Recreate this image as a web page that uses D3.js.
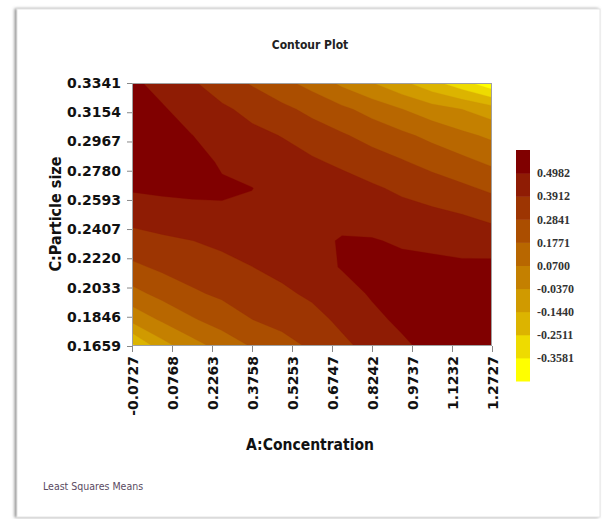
<!DOCTYPE html>
<html><head><meta charset="utf-8">
<script src="https://cdn.jsdelivr.net/npm/d3@7"></script>
<style>body{margin:0;background:#fff;} svg{display:block}</style>
</head><body>
<svg id="chart" width="602" height="519"></svg>
<script>
// ---- data ----
const xTicks = ["-0.0727","0.0768","0.2263","0.3758","0.5253","0.6747","0.8242","0.9737","1.1232","1.2727"];
const yTicks = ["0.1659","0.1846","0.2033","0.2220","0.2407","0.2593","0.2780","0.2967","0.3154","0.3341"];
const levels = [-0.3581,-0.2511,-0.1440,-0.0370,0.0700,0.1771,0.2841,0.3912,0.4982];
const levelLabels = ["-0.3581","-0.2511","-0.1440","-0.0370","0.0700","0.1771","0.2841","0.3912","0.4982"];
// band colours, lowest band first
const bandColors = ["#ffff00","#eedb00","#dcb400","#d09a00","#c48000","#b86700","#ab4e00","#9d3502","#8f1c04","#800000"];
// estimated response (rows: C from 0.3341 down to 0.1659; columns: A from -0.0727 to 1.2727)
const surface = [
  [0.520,0.461,0.403,0.339,0.273,0.206,0.140,0.046,-0.034,-0.121,-0.220,-0.320,-0.440],
  [0.540,0.510,0.450,0.408,0.364,0.310,0.256,0.200,0.138,0.072,0.009,-0.037,-0.096],
  [0.545,0.540,0.500,0.448,0.415,0.388,0.338,0.296,0.248,0.201,0.148,0.095,0.050],
  [0.535,0.545,0.530,0.488,0.455,0.430,0.407,0.370,0.331,0.293,0.250,0.206,0.157],
  [0.510,0.515,0.515,0.510,0.500,0.460,0.440,0.440,0.406,0.371,0.338,0.304,0.264],
  [0.431,0.460,0.475,0.485,0.480,0.472,0.470,0.470,0.450,0.432,0.414,0.392,0.361],
  [0.351,0.369,0.390,0.414,0.433,0.460,0.475,0.505,0.505,0.486,0.477,0.464,0.446],
  [0.262,0.304,0.333,0.358,0.390,0.420,0.455,0.505,0.520,0.525,0.520,0.515,0.523],
  [0.143,0.211,0.268,0.304,0.337,0.372,0.410,0.456,0.510,0.540,0.545,0.545,0.550],
  [-0.006,0.084,0.165,0.224,0.283,0.317,0.356,0.414,0.472,0.520,0.555,0.560,0.565],
  [-0.280,-0.080,0.024,0.109,0.185,0.245,0.300,0.368,0.425,0.479,0.530,0.550,0.560]
];

const aMin = +xTicks[0], aMax = +xTicks[xTicks.length-1];
const cMin = +yTicks[0], cMax = +yTicks[yTicks.length-1];

const svg = d3.select("#chart");
const plot = {left:132, right:492, top:83, bottom:346};

// panel with shadow
const defs = svg.append("defs");
const f = defs.append("filter").attr("id","sh").attr("x","-5%").attr("y","-5%").attr("width","110%").attr("height","110%");
f.append("feDropShadow").attr("dx",-2).attr("dy",0).attr("stdDeviation",1.6).attr("flood-color","#777").attr("flood-opacity",0.8);
svg.append("rect").attr("x",17).attr("y",9).attr("width",583).attr("height",508)
  .attr("fill","#fff").attr("stroke","#e4e4e4").attr("filter","url(#sh)");

const x = d3.scaleLinear().domain([aMin,aMax]).range([plot.left,plot.right]);
const y = d3.scaleLinear().domain([cMin,cMax]).range([plot.bottom,plot.top]);

defs.append("clipPath").attr("id","clip").append("rect")
  .attr("x",plot.left).attr("y",plot.top).attr("width",plot.right-plot.left).attr("height",plot.bottom-plot.top);

const ny = surface.length, nx = surface[0].length;
const aStep = (aMax-aMin)/(nx-1), cStep = (cMax-cMin)/(ny-1);
const contours = d3.contours().size([nx,ny]).thresholds(levels)(surface.flat());
const proj = d3.geoTransform({point(px,py){
  this.stream.point(x(aMin+(px-0.5)*aStep), y(cMax-(py-0.5)*cStep));
}});
const path = d3.geoPath(proj);

const g = svg.append("g").attr("clip-path","url(#clip)");
g.append("rect").attr("x",plot.left).attr("y",plot.top).attr("width",plot.right-plot.left)
  .attr("height",plot.bottom-plot.top).attr("fill",bandColors[0]);
g.selectAll("path.band").data(contours).join("path").attr("class","band")
  .attr("d",path).attr("fill",(d,i)=>bandColors[i+1]).attr("stroke",(d,i)=>bandColors[i+1]).attr("stroke-width",0.3);

svg.append("rect").attr("x",plot.left+0.5).attr("y",plot.top+0.5)
  .attr("width",plot.right-plot.left-1).attr("height",plot.bottom-plot.top-1)
  .attr("fill","none").attr("stroke","#a0a0a0").attr("stroke-width",1);

const tickFont = "DejaVu Sans";
// axes
const ya = svg.append("g").attr("transform",`translate(${plot.left},0)`)
  .call(d3.axisLeft(y).tickValues(yTicks.map(Number)).tickFormat((d,i)=>yTicks[i]).tickSize(5).tickPadding(6));
ya.select(".domain").remove();
ya.selectAll(".tick line").attr("stroke","#888");
ya.selectAll("text").attr("font-family",tickFont).attr("font-weight","bold").attr("font-size",14).attr("fill","#111");

const xa = svg.append("g").attr("transform",`translate(0,${plot.bottom})`)
  .call(d3.axisBottom(x).tickValues(xTicks.map(Number)).tickFormat((d,i)=>xTicks[i]).tickSize(6));
xa.select(".domain").remove();
xa.selectAll(".tick line").attr("stroke","#888");
xa.selectAll("text").attr("font-family",tickFont).attr("font-weight","bold").attr("font-size",14).attr("fill","#111")
  .attr("transform","rotate(-90)").attr("text-anchor","end").attr("x",-10).attr("y",0).attr("dy","0.36em");

// titles
svg.append("text").attr("x",310).attr("y",49).attr("text-anchor","middle")
  .attr("font-family","DejaVu Sans Condensed, DejaVu Sans").attr("font-weight","bold").attr("font-size",12).attr("fill","#222")
  .text("Contour Plot");
svg.append("text").attr("x",310).attr("y",450).attr("text-anchor","middle")
  .attr("font-family","DejaVu Sans Condensed, DejaVu Sans").attr("font-weight","bold").attr("font-size",15.5).attr("fill","#111")
  .text("A:Concentration");
svg.append("text").attr("transform","translate(61,214) rotate(-90)").attr("text-anchor","middle")
  .attr("font-family","DejaVu Sans Condensed, DejaVu Sans").attr("font-weight","bold").attr("font-size",16).attr("fill","#111")
  .text("C:Particle size");
svg.append("text").attr("x",43).attr("y",490)
  .attr("font-family","DejaVu Sans Condensed, DejaVu Sans").attr("font-size",10.5).attr("fill","#5a4a62")
  .text("Least Squares Means");

// colour legend
const lg = {x:516, w:14, top:150, bottom:381};
const nb = bandColors.length;
const ly = d3.scaleLinear().domain([0,nb]).range([lg.bottom,lg.top]);
svg.append("g").selectAll("rect").data(bandColors).join("rect")
  .attr("x",lg.x).attr("width",lg.w)
  .attr("y",(d,i)=>ly(i+1)).attr("height",(d,i)=>ly(i)-ly(i+1)+0.5).attr("fill",d=>d);
svg.append("g").selectAll("text").data(levelLabels).join("text")
  .attr("x",lg.x+lg.w+7).attr("y",(d,i)=>ly(i+1)).attr("dy","0.35em")
  .attr("font-family","Liberation Serif").attr("font-weight","bold").attr("font-size",12).attr("fill","#333")
  .text(d=>d);
</script>
</body></html>
